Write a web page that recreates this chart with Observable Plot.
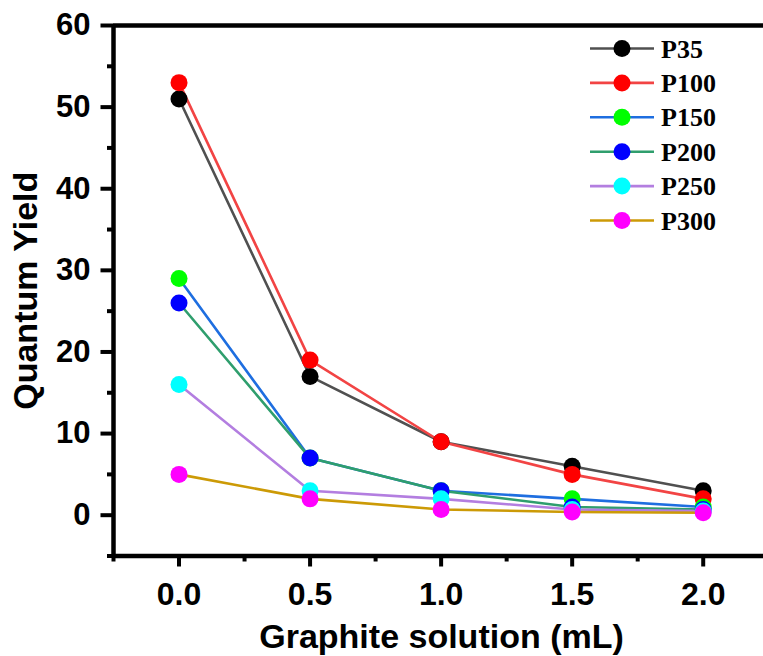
<!DOCTYPE html>
<html>
<head>
<meta charset="utf-8">
<script src="https://cdn.jsdelivr.net/npm/d3@7"></script>
<script src="https://cdn.jsdelivr.net/npm/@observablehq/plot@0.6"></script>
<style>
  html, body { margin: 0; padding: 0; background: #fff; }
  #chart svg { display: block; }
</style>
</head>
<body>
<div id="chart"></div>
<script>
// ---- data ----
const xValues = [0, 0.5, 1.0, 1.5, 2.0];
const seriesNames = ["P35", "P100", "P150", "P200", "P250", "P300"];
const P35  = [51, 17, 9, 6, 3];
const P100 = [53, 19, 9, 5, 2];
const P150 = [29, 7, 3, 2, 1.0];
const P200 = [26, 7, 3, 1.0, 0.7];
const P250 = [16, 3, 2, 0.7, 0.5];
const P300 = [5, 2, 0.7, 0.4, 0.3];
const seriesValues = [P35, P100, P150, P200, P250, P300];
const lineColors = ["#505050", "#f24444", "#1e6ee0", "#2f9e6d", "#b37ee0", "#cc9a06"];
const markerColors = ["#000000", "#ff0000", "#00ff00", "#0000ff", "#00ffff", "#ff00ff"];
const xMajorTicks = [0, 0.5, 1.0, 1.5, 2.0];
const xMinorTicks = [-0.25, 0.25, 0.75, 1.25, 1.75];
const yMajorTicks = [0, 10, 20, 30, 40, 50, 60];
const yMinorTicks = [-5, 5, 15, 25, 35, 45, 55];
const xDomain = [-0.25, 2.23];
const yDomain = [-5, 60];
const xTitle = "Graphite solution (mL)";
const yTitle = "Quantum Yield";

const data = seriesNames.flatMap((s, k) =>
  xValues.map((x, i) => ({series: s, k, x, y: seriesValues[k][i]})));

const sans = "'Liberation Sans', Arial, Helvetica, sans-serif";
const serif = "'Liberation Serif', 'Times New Roman', serif";

const marks = [];
// axes
marks.push(Plot.axisX({ticks: xMinorTicks, tickSize: 6, tickFormat: () => "", strokeWidth: 4, label: null}));
marks.push(Plot.axisX({ticks: xMajorTicks, tickSize: 11, tickPadding: 15, tickFormat: d3.format(".1f"),
  fontSize: 32, fontWeight: "bold", strokeWidth: 4, label: null}));
marks.push(Plot.axisY({ticks: yMinorTicks, tickSize: 6, tickFormat: () => "", strokeWidth: 4, label: null}));
marks.push(Plot.axisY({ticks: yMajorTicks, tickSize: 12.5, tickPadding: 10.5, tickFormat: d3.format("d"),
  fontSize: 31, fontWeight: "bold", strokeWidth: 4, label: null}));
// frame (left, top, bottom)
marks.push(Plot.ruleX([xDomain[0]], {strokeWidth: 4.5}));
marks.push(Plot.ruleY(yDomain, {strokeWidth: 4.5}));
// series lines
seriesNames.forEach((s, k) => {
  marks.push(Plot.line(data.filter(d => d.k === k), {x: "x", y: "y", stroke: lineColors[k], strokeWidth: 2.6}));
});
// series markers
seriesNames.forEach((s, k) => {
  marks.push(Plot.dot(data.filter(d => d.k === k), {x: "x", y: "y", r: 8.5, fill: markerColors[k], stroke: "none"}));
});
// titles
marks.push(Plot.text([xTitle], {frameAnchor: "bottom", dx: 3, dy: 81, lineAnchor: "middle", textAnchor: "middle",
  fontSize: 34, fontWeight: "bold", fill: "black"}));
marks.push(Plot.text([yTitle], {frameAnchor: "left", dx: -87, rotate: -90, lineAnchor: "middle", textAnchor: "middle",
  fontSize: 34, fontWeight: "bold", fill: "black"}));

const svg = Plot.plot({
  width: 763,
  height: 656,
  marginLeft: 113,
  marginTop: 25,
  marginBottom: 100.5,
  marginRight: 0,
  x: {domain: xDomain},
  y: {domain: yDomain},
  style: {fontFamily: sans, background: "white", color: "black", overflow: "visible"},
  marks
});

// legend (top right, inside plot)
const lg = d3.select(svg).append("g");
const legendTop = 48.5, legendStep = 34.4;
seriesNames.forEach((s, k) => {
  const yy = legendTop + k * legendStep;
  lg.append("line").attr("x1", 590).attr("x2", 654).attr("y1", yy).attr("y2", yy)
    .attr("stroke", lineColors[k]).attr("stroke-width", 2.6);
  lg.append("circle").attr("cx", 622).attr("cy", yy).attr("r", 8.5).attr("fill", markerColors[k]);
  lg.append("text").attr("x", 661).attr("y", yy).attr("dy", "0.35em")
    .attr("text-anchor", "start")
    .attr("font-family", serif).attr("font-weight", "bold").attr("font-size", 26)
    .attr("fill", "black").text(s);
});

document.getElementById("chart").appendChild(svg);
</script>
</body>
</html>
